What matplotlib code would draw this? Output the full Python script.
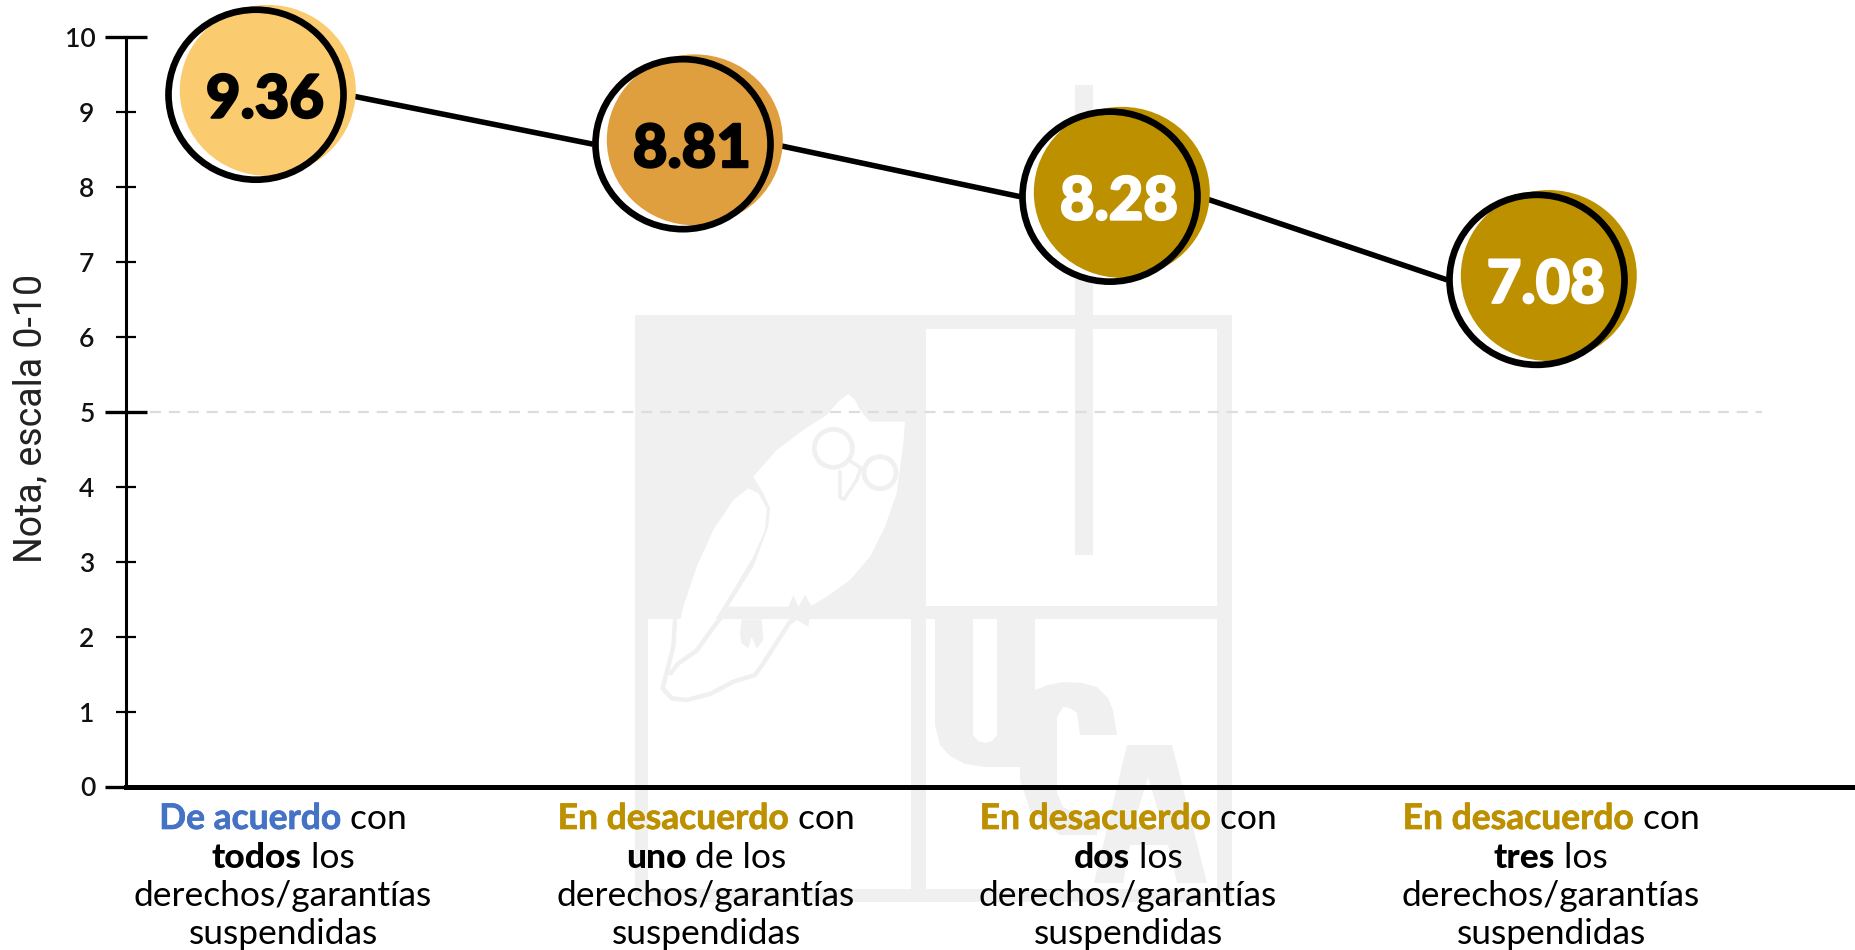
import matplotlib
matplotlib.use('Agg')
import matplotlib.pyplot as plt
import matplotlib.patheffects as pe
from matplotlib.lines import Line2D
from matplotlib.patches import Rectangle, Polygon, Circle
from matplotlib.path import Path
from matplotlib.transforms import Affine2D, IdentityTransform, offset_copy

W, H = 1855, 950

# values
score_labels = ['9.36', '8.81', '8.28', '7.08']
score_pos = [9.23, 8.57, 7.87, 6.76]  # where the circles sit on the axis
lead_text = ['De acuerdo', 'En desacuerdo', 'En desacuerdo', 'En desacuerdo']
count_text = ['todos', 'uno', 'dos', 'tres']
rest_text = [' los', ' de los', ' los', ' los']
fill_colors = ['#FBCB70', '#E09F3E', '#BD9000', '#BD9000']
lead_colors = ['#4472C4', '#BD9000', '#BD9000', '#BD9000']
text_colors = ['black', 'black', 'white', 'white']
major_ticks = [0, 5, 10]
minor_ticks = [1, 2, 3, 4, 6, 7, 8, 9]

plt.rcParams['font.family'] = ['Lato', 'DejaVu Sans']
fig = plt.figure(figsize=(W / 100, H / 100), dpi=100)
pix = IdentityTransform()
LOGO = '#F0F0F0'


def box(x0, y0, x1, y1, color=LOGO):
    fig.add_artist(Rectangle((x0, H - y1), x1 - x0, y1 - y0, color=color, lw=0,
                             transform=pix, zorder=-5))


def poly(points, color=LOGO, z=-5):
    fig.add_artist(Polygon([(x, H - y) for x, y in points], closed=True, color=color, lw=0,
                           transform=pix, zorder=z))


def z3(points):
    return [(640 + x / 3, 380 + y / 3) for x, y in points]


def stroke(points, lw):
    fig.add_artist(Line2D([p[0] for p in points], [H - p[1] for p in points], color=LOGO, lw=lw,
                          transform=pix, zorder=-3, solid_joinstyle='round', solid_capstyle='round'))


# logo in the background
box(635, 315, 1232, 902)
box(926, 329, 1217, 606, 'white')
box(648, 619, 911, 889, 'white')
box(926, 619, 1217, 889, 'white')
box(1075, 85, 1093, 555)
poly([(935, 619), (973, 619), (973, 735), (978, 741), (985, 743), (992, 741), (997, 735), (997, 619), (1035, 619),
      (1035, 690), (1048, 685), (1063, 682), (1082, 683), (1097, 687), (1108, 698), (1113, 710), (1117, 735),
      (1080, 735), (1077, 713), (1070, 708), (1063, 707), (1057, 717), (1057, 793), (1063, 807), (1078, 815),
      (1097, 815), (1097, 835), (1060, 835), (1030, 810), (1020, 780), (1020, 767), (985, 767), (965, 764),
      (950, 756), (940, 745), (935, 725)])
poly([(1127, 745), (1172, 745), (1207, 883), (1177, 883), (1168, 845), (1130, 845), (1123, 883),
      (1094, 883)])
poly([(1148, 777), (1163, 827), (1133, 827)], 'white')

owl_body = [(625, 42), (645, 60), (660, 90), (690, 125), (795, 125), (790, 190), (770, 340), (735, 440), (690, 530),
            (630, 600), (560, 650), (510, 680), (265, 680), (340, 560), (385, 440), (390, 385), (370, 340), (340, 290),
            (410, 210), (490, 150), (560, 105), (600, 60)]
owl_wing = [(325, 325), (355, 340), (380, 385), (375, 450), (340, 530), (280, 630), (225, 720), (170, 800), (115, 835),
            (105, 790), (130, 680), (170, 560), (220, 450), (280, 360)]
poly(z3(owl_body), 'white', -4)
poly(z3(owl_wing), 'white', -4)
stroke(z3([(105, 720), (100, 800), (78, 885), (68, 925), (95, 955), (140, 960), (210, 942), (280, 905), (345, 885),
           (370, 850), (450, 725)]), 3.2)
stroke(z3([(92, 880), (115, 850), (170, 812), (225, 735), (250, 705)]), 3.2)
poly(z3([(305, 718), (365, 718), (370, 780), (350, 805), (335, 770), (325, 805), (305, 790), (300, 760)]), LOGO, -3)
poly(z3([(445, 680), (460, 645), (475, 680), (495, 645), (515, 680), (505, 740), (470, 720), (445, 740),
         (455, 700)]), LOGO, -3)
for gx, gy, gr in [(580, 205, 19), (720, 278, 16)]:
    fx, fy = z3([(gx, gy)])[0]
    fig.add_artist(Circle((fx, H - fy), gr, fill=False, ec=LOGO, lw=3.4, transform=pix, zorder=-3))
stroke(z3([(625, 240), (665, 265)]), 2.5)
stroke(z3([(600, 275), (600, 352), (612, 358), (650, 300), (662, 265)]), 2.5)

# axes, x positions are the four groups
ax = fig.add_axes([126 / W, (H - 786.5) / H, (W - 126) / W, (786.5 - 37) / H])
ax.patch.set_visible(False)
xs = list(range(len(score_pos)))
ax.set_xlim((126 - 256) / 427, (W - 256) / 427)
ax.set_ylim(0, 10)

for s in ['top', 'right']:
    ax.spines[s].set_visible(False)
ax.spines['left'].set_linewidth(2.2)
ax.spines['bottom'].set_linewidth(3.6)
ax.spines['bottom'].set_zorder(6)
ax.set_xticks([])
ax.set_yticks(major_ticks)
ax.set_yticks(minor_ticks, minor=True)
ax.set_yticklabels([str(v) for v in major_ticks], fontsize=19, fontweight='semibold', color='#111111')
ax.set_yticklabels([str(v) for v in minor_ticks], minor=True, fontsize=19, fontweight='semibold', color='#111111')
ax.tick_params(axis='y', which='major', direction='inout', length=30, width=2.4, pad=7)
ax.tick_params(axis='y', which='minor', direction='inout', length=14, width=1.6, pad=16)

ax.plot([(150 - 256) / 427, (1762 - 256) / 427], [5, 5], color='#DDDDDD', lw=1.6, dashes=(5, 3.5), zorder=1)

# the line runs from the right edge of one circle to the left edge of the next
edge = 90 / 427
for i in xs[:-1]:
    ax.plot([xs[i] + edge, xs[i + 1] - edge], [score_pos[i], score_pos[i + 1]], color='black', lw=4, zorder=2,
            solid_capstyle='butt')

# slightly flattened circles like in the original
outline = Path.unit_circle().transformed(Affine2D().scale(1, 170 / 175))
shape = Path.unit_circle().transformed(Affine2D().scale(1, 171 / 176))
shifted = offset_copy(ax.transData, fig=fig, x=11.8, y=4.3, units='dots')
ax.scatter(xs, score_pos, s=(175 * 0.72) ** 2, marker=outline, facecolor='white', edgecolor='none', zorder=3,
           clip_on=False)
ax.scatter(xs, score_pos, s=(176 * 0.72) ** 2, marker=shape, facecolor=fill_colors, edgecolor='none', zorder=4,
           clip_on=False, transform=shifted)
ax.scatter(xs, score_pos, s=(175 * 0.72) ** 2, marker=outline, facecolor='none', edgecolor='black', linewidth=4.8,
           zorder=5, clip_on=False)

text_shift = offset_copy(ax.transData, fig=fig, x=9, y=-5, units='dots')
for x, y, lab, col in zip(xs, score_pos, score_labels, text_colors):
    ax.text(x, y, lab, transform=text_shift, ha='center', va='center', fontsize=43, fontweight='black', color=col,
            zorder=7, clip_on=False, path_effects=[pe.withStroke(linewidth=1.5, foreground=col)])

fig.text(31, H - 418, 'Nota, escala 0-10', transform=pix, rotation=90, ha='center', va='center', fontsize=27,
         family=['Roboto', 'Lato'], color='#222222')

# category labels, mixed colours and weights on one line
label_x = [283, 706, 1128, 1551]
baselines = [829, 868, 906, 944]
rend = fig.canvas.get_renderer()


def mixed(cx, y, parts):
    made = []
    for txt, col, wt in parts:
        t = fig.text(0, H - y, txt.replace(' ', '\u00a0'), transform=pix, fontsize=25.5, color=col, fontweight=wt,
                     ha='left', va='baseline')
        if wt == 'bold':
            t.set_path_effects([pe.withStroke(linewidth=0.5, foreground=col)])
        made.append(t)
    widths = [t.get_window_extent(rend).width for t in made]
    x = cx - sum(widths) / 2
    for t, w in zip(made, widths):
        t.set_x(x)
        x += w


for i in xs:
    mixed(label_x[i], baselines[0], [(lead_text[i], lead_colors[i], 'bold'), (' con', 'black', 'normal')])
    mixed(label_x[i], baselines[1], [(count_text[i], 'black', 'black'), (rest_text[i], 'black', 'normal')])
    mixed(label_x[i], baselines[2], [('derechos/garantías', 'black', 'normal')])
    mixed(label_x[i], baselines[3], [('suspendidas', 'black', 'normal')])

fig.savefig('out.png', dpi=100)
